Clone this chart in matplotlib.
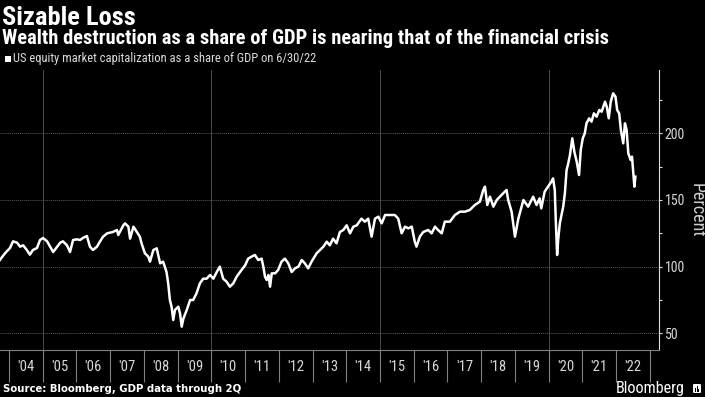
import matplotlib
matplotlib.use("Agg")
import matplotlib.pyplot as plt
from matplotlib import font_manager as fm
from matplotlib.patches import Rectangle, FancyBboxPatch

# ---------------- data ----------------
dates = [
    2003.73, 2003.88, 2004.03, 2004.12, 2004.24, 2004.33, 2004.42, 2004.53, 2004.62, 2004.71,
    2004.83, 2004.92, 2005.01, 2005.13, 2005.22, 2005.31, 2005.43, 2005.52, 2005.60, 2005.72,
    2005.81, 2005.90, 2006.02, 2006.11, 2006.19, 2006.31, 2006.40, 2006.49, 2006.61, 2006.70,
    2006.79, 2006.91, 2006.99, 2007.08, 2007.20, 2007.24, 2007.39, 2007.44, 2007.54, 2007.59,
    2007.69, 2007.79, 2007.88, 2007.93, 2008.03, 2008.13, 2008.18, 2008.28, 2008.38, 2008.48,
    2008.57, 2008.67, 2008.72, 2008.77, 2008.82, 2008.87, 2008.92, 2009.02, 2009.07, 2009.12,
    2009.17, 2009.27, 2009.37, 2009.46, 2009.56, 2009.66, 2009.76, 2009.86, 2009.96, 2010.06,
    2010.16, 2010.25, 2010.35, 2010.45, 2010.55, 2010.65, 2010.75, 2010.85, 2011.00, 2011.09,
    2011.19, 2011.29, 2011.39, 2011.49, 2011.54, 2011.59, 2011.64, 2011.69, 2011.74, 2011.79,
    2011.89, 2011.98, 2012.08, 2012.18, 2012.28, 2012.38, 2012.48, 2012.58, 2012.68, 2012.77,
    2012.87, 2012.97, 2013.12, 2013.22, 2013.32, 2013.42, 2013.51, 2013.61, 2013.71, 2013.81,
    2013.91, 2014.01, 2014.11, 2014.21, 2014.31, 2014.45, 2014.55, 2014.65, 2014.75, 2014.85,
    2014.95, 2015.05, 2015.15, 2015.29, 2015.44, 2015.54, 2015.64, 2015.74, 2015.84, 2015.94,
    2016.03, 2016.08, 2016.18, 2016.28, 2016.43, 2016.53, 2016.63, 2016.72, 2016.83, 2016.92,
    2017.07, 2017.22, 2017.37, 2017.52, 2017.66, 2017.81, 2017.96, 2018.06, 2018.11, 2018.18,
    2018.26, 2018.36, 2018.46, 2018.60, 2018.75, 2018.80, 2018.90, 2019.00, 2019.10, 2019.25,
    2019.39, 2019.54, 2019.64, 2019.73, 2019.78, 2019.88, 2019.98, 2020.08, 2020.13, 2020.18,
    2020.21, 2020.25, 2020.28, 2020.33, 2020.38, 2020.43, 2020.48, 2020.53, 2020.58, 2020.63,
    2020.70, 2020.76, 2020.83, 2020.90, 2020.95, 2021.01, 2021.07, 2021.12, 2021.20, 2021.27,
    2021.34, 2021.42, 2021.50, 2021.57, 2021.67, 2021.72, 2021.78, 2021.84, 2021.91, 2021.98,
    2022.03, 2022.09, 2022.14, 2022.21, 2022.26, 2022.31, 2022.36, 2022.43, 2022.47, 2022.51,
    2022.54, 2022.57,
]
values = [
    105, 110, 114, 119, 118, 115, 116, 112.5, 109, 112.5,
    114, 120, 121.5, 119, 115, 111, 115, 118, 119, 116,
    111, 120, 120.5, 120, 121.5, 123, 115, 112.5, 115, 119,
    122.5, 125, 125.5, 126, 127.5, 123.75, 131, 132.5, 130, 121,
    130, 126, 122.5, 117.5, 110, 107.5, 103.75, 112.5, 113.75, 102.5,
    103.75, 96, 87.5, 75, 70, 60, 67.5, 70, 65, 55,
    61, 67.5, 75, 75, 80, 87.5, 91, 91, 93.75, 91,
    96, 100, 91, 88.75, 85, 87.5, 92.5, 96, 101, 106,
    107.5, 108.75, 105, 106, 100, 92.5, 90, 93.75, 85, 95,
    95, 97.5, 103.75, 106, 102.5, 96, 98.75, 100, 105, 102.5,
    98.75, 103.75, 110, 112.5, 115, 118.75, 116, 121, 117.5, 126,
    127.5, 131, 125, 130, 131, 136, 133.75, 136, 122.5, 136,
    137.5, 132.5, 138.75, 138.75, 138.75, 136, 125, 130, 128.75, 130,
    118.75, 115, 122.5, 126, 127.5, 125, 130, 127.5, 125, 133.75,
    133.75, 138.75, 141.25, 141.25, 142.5, 146.25, 148.75, 157.5, 160, 146.25,
    152.5, 145, 150, 153.75, 157.5, 150, 141.25, 122.5, 136, 150,
    145, 152.5, 146.25, 151.25, 143.75, 156.25, 160, 163.75, 166.25, 157.5,
    135, 108.75, 120, 132.5, 138.75, 145, 155, 172.5, 177.5, 183.75,
    196.25, 186.25, 178.75, 168.75, 187.5, 196.25, 200, 207.5, 211.25, 208.75,
    215, 212.5, 217.5, 216.25, 223.75, 220, 211.25, 223.75, 230, 227.5,
    217.5, 215, 202.5, 192.5, 207.5, 202.5, 185, 180, 182.5, 170,
    160, 167.5,
]
year_starts = list(range(2004, 2024))
year_labels = ["'%02d" % (y % 100) for y in range(2004, 2023)]
y_major = [50, 100, 150, 200]
y_minor = [75, 125, 175, 225]
grid_years = [2005, 2010, 2015, 2020]

title = "Sizable Loss"
subtitle = "Wealth destruction as a share of GDP is nearing that of the financial crisis"
series_label = "US equity market capitalization as a share of GDP on 6/30/22"
source = "Source: Bloomberg, GDP data through 2Q"

# ---------------- fonts: look for a narrow / condensed face ----------------
FAM, STR = "Liberation Sans", "normal"
_fonts = fm.fontManager.ttflist
_names = {f.name for f in _fonts}
_found = False
for n in ("Roboto Condensed", "Liberation Sans Narrow", "Open Sans Condensed",
          "DejaVu Sans Condensed"):
    if n in _names:
        FAM, STR, _found = n, "normal", True
        break
if not _found:
    for f in _fonts:
        if f.name in ("DejaVu Sans", "Noto Sans", "Open Sans", "Roboto") and "condensed" in str(f.stretch):
            FAM, STR, _found = f.name, f.stretch, True
            break

W, H = 705, 397
fig = plt.figure(figsize=(W / 100, H / 100), dpi=100, facecolor="black")
renderer = fig.canvas.get_renderer()

def fx(px):
    return px / W

def fy(py):
    return 1 - py / H

def fit(t, target_px):
    """scale a text's font size so that its rendered width matches target_px"""
    w = t.get_window_extent(renderer).width
    if w > 0:
        t.set_fontsize(t.get_fontsize() * target_px / w)
    return t

ax = fig.add_axes([0, fy(350), fx(659), (350 - 70) / H], facecolor="black")
ax.set_xlim(2003.734, 2023.27)
ax.set_ylim(37.5, 247.5)

# grid
for g in grid_years:
    ax.axvline(g, color="#4a4a4a", lw=0.7, zorder=1)
ax.set_yticks(y_major)
ax.set_yticks(y_minor, minor=True)
ax.yaxis.grid(True, which="major", color="#5a5a5a", lw=0.7, linestyle=(0, (1, 1)), zorder=1)

ax.plot(dates, values, color="white", lw=1.8, zorder=3, solid_joinstyle="round")

# spines
for s in ("top", "left"):
    ax.spines[s].set_visible(False)
ax.spines["bottom"].set_color("#808080")
ax.spines["bottom"].set_linewidth(0.8)
ax.spines["right"].set_color("#dddddd")
ax.spines["right"].set_linewidth(0.8)

# y axis on right
ax.yaxis.tick_right()
ax.tick_params(axis="y", which="both", length=2.5, width=0.8, color="#dddddd",
               pad=1.5, labelcolor="#d8d8d8", labelsize=10)
ax.tick_params(axis="y", which="minor", labelright=False)
for lab in ax.get_yticklabels():
    lab.set_fontfamily(FAM)
    lab.set_fontstretch(STR)

# x axis: year dividers + centred labels
ax.set_xticks(year_starts)
ax.set_xticklabels([""] * len(year_starts))
ax.set_xticks([y + 0.5 for y in range(2004, 2023)], year_labels, minor=True)
ax.tick_params(axis="x", which="major", length=23, width=0.8, color="#808080", direction="out")
ax.tick_params(axis="x", which="minor", length=0, pad=7.5, labelcolor="#d8d8d8", labelsize=10.5)
for lab in ax.get_xticklabels(minor=True):
    lab.set_fontfamily(FAM)
    lab.set_fontstretch(STR)

fig.text(fx(697), fy(210), "Percent", rotation=270, ha="center", va="center",
         color="#d0d0d0", fontsize=13, family=FAM, fontstretch=STR)

# header
fit(fig.text(fx(2), fy(25), title, ha="left", va="baseline", color="white",
             fontsize=16, fontweight="bold", family=FAM, fontstretch=STR), 133)
fit(fig.text(fx(2), fy(44), subtitle, ha="left", va="baseline", color="white",
             fontsize=12, fontweight="bold", family=FAM, fontstretch=STR), 610)
fig.patches.append(Rectangle((fx(5), fy(62)), fx(6), 6 / H, transform=fig.transFigure,
                             facecolor="white", edgecolor="none"))
fit(fig.text(fx(13), fy(58.5), series_label, ha="left", va="center", color="#dddddd",
             fontsize=9, family=FAM, fontstretch=STR), 304)

# footer
fit(fig.text(fx(3), fy(392), source, ha="left", va="baseline", color="white",
             fontsize=7.2, fontweight="bold", family="DejaVu Sans"), 237)
fit(fig.text(fx(616), fy(393), "Bloomberg", ha="left", va="baseline", color="white",
             fontsize=11, family=FAM, fontstretch=STR), 69)
fig.patches.append(FancyBboxPatch((fx(693), fy(393)), fx(8), 9 / H,
                                  boxstyle="round,pad=0,rounding_size=0.002",
                                  transform=fig.transFigure, facecolor="white", edgecolor="none"))
for bx, bh in ((694.8, 4), (696.6, 6), (698.4, 3)):
    fig.patches.append(Rectangle((fx(bx), fy(391.5)), fx(1), bh / H, transform=fig.transFigure,
                                 facecolor="black", edgecolor="none"))

fig.savefig("out.png", dpi=100, facecolor="black")
